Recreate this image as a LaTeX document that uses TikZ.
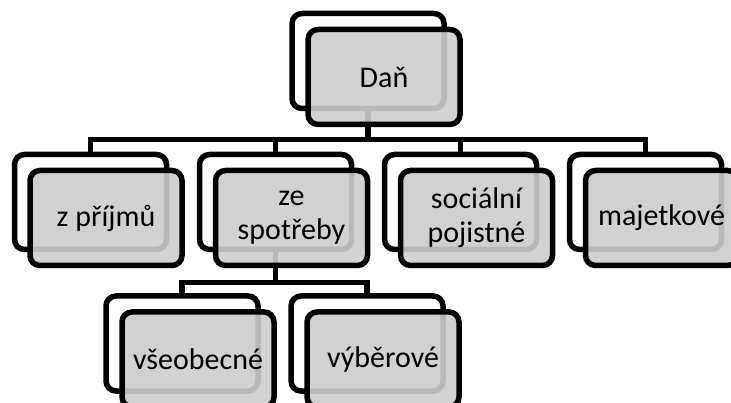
\documentclass[tikz,border=0pt]{standalone}
\usepackage{fontspec}
\setmainfont{Carlito}
\begin{document}
\begin{tikzpicture}[x=1pt,y=-1pt,
  backbox/.style={draw=black,line width=5.5pt,fill=white,rounded corners=10pt,
    minimum width=152pt,minimum height=95pt,inner sep=0pt},
  frontbox/.style={draw=black,line width=5.5pt,fill={rgb,255:red,205;green,205;blue,205},
    fill opacity=0.9,draw opacity=1,text opacity=1,rounded corners=10pt,
    minimum width=152pt,minimum height=95pt,inner sep=0pt,align=center,
    font=\fontsize{30}{34}\selectfont,text=black},
  conn/.style={draw=black,line width=5.5pt}]
\useasboundingbox (0,0) rectangle (731,403);
\clip (0,0) rectangle (731,403);
% back boxes
\node[backbox] (danb) at (368,61) {};
\node[backbox] (ab) at (90.5,202) {};
\node[backbox] (bb) at (275.5,202) {};
\node[backbox] (cb) at (460.5,202) {};
\node[backbox] (db) at (645.5,202) {};
\node[backbox] (eb) at (182,343.5) {};
\node[backbox] (fb) at (367,343.5) {};
% connectors
\coordinate (bar1) at (0,139.5);
\coordinate (bar2) at (0,282.5);
\draw[conn] (danb.south) -- (danb.south |- bar1) -| (ab.north);
\draw[conn] (danb.south) -- (danb.south |- bar1) -| (bb.north);
\draw[conn] (danb.south) -- (danb.south |- bar1) -| (cb.north);
\draw[conn] (danb.south) -- (danb.south |- bar1) -| (db.north);
\draw[conn] (bb.south) -- (bb.south |- bar2) -| (eb.north);
\draw[conn] (bb.south) -- (bb.south |- bar2) -| (fb.north);
% front boxes
\node[frontbox] (dan) at (384,77) {Daň};
\node[frontbox] (a) at (106,218) {z příjmů};
\node[frontbox] (b) at (291.5,218) {ze\\spotřeby};
\node[frontbox] (c) at (476.5,218) {sociální\\pojistné};
\node[frontbox] (d) at (661.5,218) {majetkové};
\node[frontbox] (e) at (198,359.5) {všeobecné};
\node[frontbox] (f) at (383,359.5) {výběrové};
\end{tikzpicture}
\end{document}
